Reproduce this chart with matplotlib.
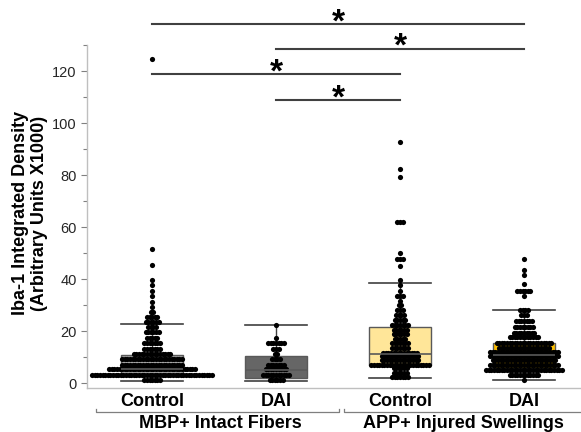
import numpy as np
import matplotlib
matplotlib.use("Agg")
from matplotlib import pyplot as plt
from matplotlib.transforms import blended_transform_factory

plt.rcParams['font.family'] = ['Liberation Sans', 'DejaVu Sans']

# categories
ticks = ["Control", "DAI", "Control", "DAI"]
groups = ["MBP+ Intact Fibers", "APP+ Injured Swellings"]
box_colors = ["#a6a6a6", "#666666", "#ffe699", "#ffc000"]

# box stats: whisker low, q1, median, q3, whisker high
whislo = [0.7, 0.9, 2.0, 1.2]
q1 = [3.0, 2.0, 7.0, 6.0]
med = [5.5, 5.0, 11.1, 11.0]
q3 = [11.0, 10.4, 21.6, 15.4]
whishi = [22.7, 22.4, 38.4, 28.3]

# dot rows per group: (value, number of dots in the row)
ctrl_mbp = [(1.2, 7), (3.2, 47), (5.3, 34), (7.2, 24), (9.2, 24), (11.2, 15),
            (13.3, 7), (15.4, 7), (17.4, 5), (19.6, 6), (21.5, 4), (23.4, 6),
            (25.3, 5), (27.4, 2), (29.4, 1), (31.4, 1), (33.4, 1), (35.4, 1),
            (37.6, 1), (39.8, 1), (45.5, 1), (51.8, 1), (124.6, 1)]
dai_mbp = [(1.1, 6), (3.2, 11), (5.3, 9), (7.2, 7), (9.2, 4), (11.2, 2),
           (13.3, 3), (15.4, 7), (17.4, 1), (22.5, 1)]
ctrl_app = [(2.4, 7), (4.1, 6), (5.8, 6), (7.1, 23), (8.8, 15), (10.3, 15),
            (11.8, 14), (13.5, 7), (15.4, 7), (17.0, 5), (18.8, 6), (20.5, 6),
            (22.5, 7), (24.4, 5), (26.3, 4), (28.3, 3), (30.2, 2), (31.6, 1),
            (33.5, 3), (35.5, 1), (37.8, 1), (39.8, 1), (44.9, 1), (47.7, 3),
            (50.0, 1), (62.2, 3), (79.3, 1), (82.5, 1), (92.8, 1)]
dai_app = [(1.2, 1), (3.3, 12), (5.2, 30), (7.1, 27), (8.8, 25), (10.3, 27),
           (11.9, 27), (13.5, 20), (15.4, 22), (17.7, 12), (19.5, 9), (21.5, 8),
           (23.9, 7), (26.3, 3), (28.3, 4), (33.5, 1), (35.5, 6), (38.1, 1),
           (41.7, 1), (43.6, 1), (47.6, 1)]
rows = [ctrl_mbp, dai_mbp, ctrl_app, dai_app]

# significance brackets: (from, to, height)
sig = [(1, 4, 138.0), (2, 4, 128.6), (1, 3, 118.8), (2, 3, 108.8)]

fig = plt.figure(figsize=(5.81, 4.32), dpi=100)
ax = fig.add_axes([0.15, 0.102, 0.85, 0.794])

pos = np.arange(1, 5)
stats = []
for i in range(4):
    stats.append(dict(whislo=whislo[i], q1=q1[i], med=med[i], q3=q3[i],
                      whishi=whishi[i], fliers=[]))
bp = ax.bxp(stats, positions=pos, widths=0.5, patch_artist=True,
            showfliers=False, manage_ticks=False,
            boxprops=dict(edgecolor="#595959", linewidth=1.0),
            medianprops=dict(color="#595959", linewidth=1.2),
            whiskerprops=dict(color="#404040", linewidth=1.0),
            capprops=dict(color="#404040", linewidth=1.2),
            capwidths=0.5)
for patch, c in zip(bp["boxes"], box_colors):
    patch.set_facecolor(c)
    patch.set_zorder(1)

step = 0.021
for p, r in zip(pos, rows):
    xs = []
    ys = []
    for v, n in r:
        off = (np.arange(n) - (n - 1) / 2.0) * step
        xs.extend(p + off)
        ys.extend([v] * n)
    ax.scatter(xs, ys, s=14, color="black", linewidths=0, zorder=2)

for a, b, h in sig:
    ax.plot([a, b], [h, h], color="#404040", lw=1.5, clip_on=False, zorder=3)
    ax.text((a + b) / 2.0, h - 2.6, "*", ha="center", va="baseline",
            fontsize=24, fontweight="bold", clip_on=False)

ax.set_xlim(0.476, 4.46)
ax.set_ylim(-1.8, 130.1)
ax.set_yticks(np.arange(0, 121, 20))
ax.set_yticks(np.arange(10, 131, 20), minor=True)
ax.tick_params(axis="y", which="both", colors="#808080", labelcolor="#262626",
               labelsize=10.5, length=4, width=0.8)
ax.tick_params(axis="y", which="minor", length=3)
ax.set_xticks(pos)
ax.set_xticklabels(ticks, fontsize=13, fontweight="bold")
ax.tick_params(axis="x", length=0, pad=4)
for s in ["top", "right"]:
    ax.spines[s].set_visible(False)
for s in ["left", "bottom"]:
    ax.spines[s].set_color("#bfbfbf")
    ax.spines[s].set_linewidth(1.0)

ax.set_ylabel("Iba-1 Integrated Density\n(Arbitrary Units X1000)",
              fontsize=13, fontweight="bold", linespacing=1.1)
ax.yaxis.set_label_coords(-0.08, 0.51)

tr = blended_transform_factory(ax.transData, ax.transAxes)
spans = [(0.544, 2.51), (2.55, 4.6)]
for (x0, x1), g in zip(spans, groups):
    ax.plot([x0, x0, x1, x1], [-0.061, -0.07, -0.07, -0.061], color="#7f7f7f",
            lw=0.9, transform=tr, clip_on=False)
ax.text(1.55, -0.103, groups[0], transform=tr, ha="center", va="center",
        fontsize=13, fontweight="bold")
ax.text(3.51, -0.103, groups[1], transform=tr, ha="center", va="center",
        fontsize=13, fontweight="bold")

fig.savefig("out.png", dpi=100)
